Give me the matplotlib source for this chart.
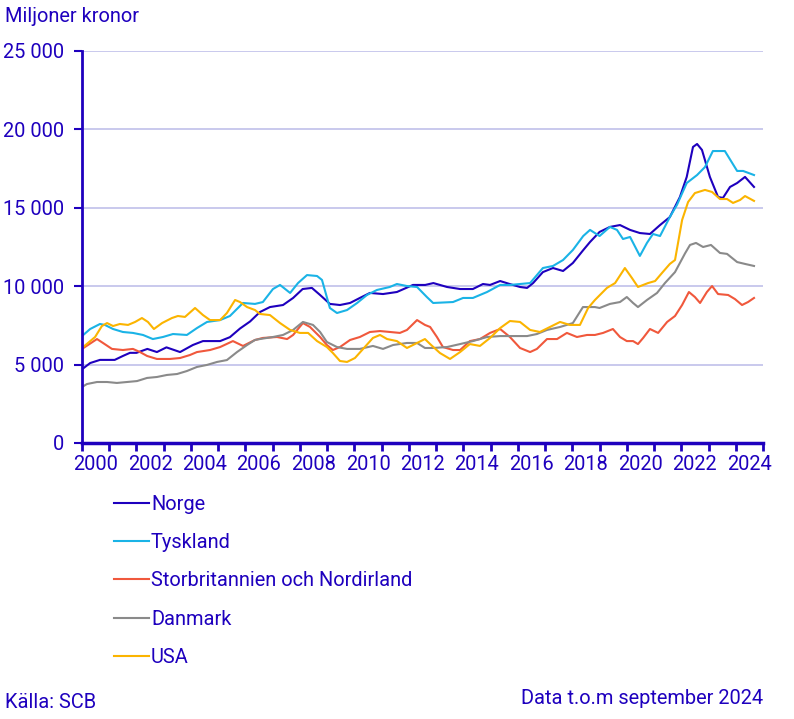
import matplotlib.pyplot as plt
from matplotlib.ticker import FuncFormatter

# (year as decimal, value in Mkr)
norge_x = [2000.0, 2000.3, 2000.66, 2001.2, 2001.5, 2001.76, 2002.0, 2002.4, 2002.75, 2003.1,
           2003.6, 2004.07, 2004.44, 2005.07, 2005.43, 2005.8, 2006.17, 2006.53, 2006.9, 2007.38,
           2007.75, 2008.1, 2008.44, 2008.74, 2009.1, 2009.47, 2009.84, 2010.2, 2010.57, 2011.05,
           2011.56, 2012.15, 2012.6, 2012.9, 2013.4, 2013.88, 2014.35, 2014.72, 2014.98, 2015.35,
           2015.7, 2016.08, 2016.34, 2016.56, 2016.92, 2017.29, 2017.66, 2018.02, 2018.4, 2018.65,
           2019.0, 2019.38, 2019.75, 2020.12, 2020.48, 2020.85, 2021.22, 2021.58, 2021.95, 2022.2,
           2022.43, 2022.58, 2022.76, 2023.05, 2023.35, 2023.53, 2023.79, 2024.05, 2024.34, 2024.67]
norge_y = [4700, 5100, 5300, 5300, 5550, 5750, 5750, 6000, 5800, 6100,
           5800, 6250, 6500, 6500, 6750, 7300, 7750, 8350, 8670, 8800,
           9250, 9820, 9890, 9440, 8870, 8800, 8930, 9250, 9570, 9500,
           9630, 10080, 10080, 10200, 9950, 9820, 9820, 10140, 10080, 10330,
           10140, 9950, 9890, 10200, 10900, 11160, 10970, 11480, 12300, 12820,
           13460, 13780, 13900, 13590, 13390, 13330, 13900, 14410, 15690, 16970,
           18880, 19070, 18690, 16970, 15690, 15630, 16330, 16580, 16970, 16330]

tyskland_x = [2000.0, 2000.3, 2000.66, 2000.84, 2001.14, 2001.5, 2001.87, 2002.24, 2002.6, 2002.97,
              2003.34, 2003.85, 2004.22, 2004.59, 2005.07, 2005.43, 2005.91, 2006.35, 2006.64, 2007.01,
              2007.27, 2007.64, 2007.93, 2008.26, 2008.63, 2008.81, 2009.1, 2009.36, 2009.73, 2010.1,
              2010.46, 2010.83, 2011.3, 2011.56, 2011.93, 2012.3, 2012.66, 2012.89, 2013.62, 2013.99,
              2014.35, 2014.87, 2015.35, 2015.71, 2016.08, 2016.45, 2016.7, 2016.92, 2017.29, 2017.66,
              2018.02, 2018.4, 2018.65, 2019.0, 2019.38, 2019.64, 2019.86, 2020.12, 2020.48, 2020.74,
              2020.96, 2021.22, 2021.58, 2021.84, 2022.2, 2022.58, 2022.87, 2023.16, 2023.6, 2024.05,
              2024.27, 2024.67]
tyskland_y = [6820, 7270, 7590, 7530, 7270, 7080, 7020, 6890, 6630, 6760,
              6950, 6890, 7330, 7720, 7840, 8100, 8930, 8870, 8990, 9820,
              10080, 9570, 10200, 10710, 10650, 10400, 8610, 8290, 8480, 8930,
              9440, 9760, 9950, 10140, 10010, 9950, 9310, 8930, 8990, 9250,
              9250, 9630, 10080, 10080, 10140, 10200, 10710, 11160, 11290, 11670,
              12310, 13200, 13590, 13200, 13780, 13590, 13010, 13140, 11930, 12760,
              13330, 13200, 14410, 15180, 16580, 17090, 17600, 18620, 18620, 17350,
              17350, 17090]

storbritannien_x = [2000.0, 2000.22, 2000.55, 2000.77, 2001.1, 2001.5, 2001.87, 2002.13, 2002.39, 2002.75,
                    2003.23, 2003.6, 2003.96, 2004.22, 2004.7, 2005.07, 2005.54, 2005.91, 2006.35, 2006.64,
                    2007.16, 2007.53, 2007.75, 2008.11, 2008.37, 2008.74, 2008.99, 2009.21, 2009.47, 2009.84,
                    2010.2, 2010.57, 2010.94, 2011.31, 2011.67, 2011.93, 2012.3, 2012.59, 2012.78, 2013.03,
                    2013.25, 2013.62, 2013.88, 2014.24, 2014.61, 2014.98, 2015.35, 2015.71, 2016.08, 2016.45,
                    2016.7, 2017.07, 2017.44, 2017.8, 2018.17, 2018.54, 2018.83, 2019.13, 2019.49, 2019.75,
                    2020.0, 2020.23, 2020.41, 2020.6, 2020.85, 2021.15, 2021.48, 2021.77, 2022.03, 2022.28,
                    2022.5, 2022.69, 2022.94, 2023.13, 2023.35, 2023.72, 2023.97, 2024.23, 2024.45, 2024.67]
storbritannien_y = [6000, 6250, 6630, 6380, 6000, 5930, 6000, 5800, 5550, 5360,
                    5360, 5420, 5610, 5800, 5930, 6120, 6500, 6190, 6570, 6700,
                    6760, 6630, 6890, 7650, 7400, 6760, 6250, 5930, 6120, 6570,
                    6760, 7080, 7140, 7080, 7020, 7210, 7840, 7530, 7400, 6760,
                    6120, 5930, 5930, 6500, 6630, 7020, 7270, 6760, 6060, 5800,
                    6000, 6630, 6630, 7020, 6760, 6890, 6890, 7020, 7270, 6760,
                    6500, 6500, 6310, 6700, 7270, 7020, 7720, 8100, 8800, 9630,
                    9310, 8930, 9630, 10010, 9500, 9440, 9180, 8800, 8990, 9250]

danmark_x = [2000.0, 2000.18, 2000.55, 2000.92, 2001.28, 2001.65, 2002.02, 2002.39, 2002.75, 2003.12,
             2003.49, 2003.85, 2004.22, 2004.59, 2004.96, 2005.32, 2005.69, 2006.06, 2006.35, 2006.53,
             2007.01, 2007.38, 2007.75, 2008.11, 2008.48, 2008.74, 2008.99, 2009.36, 2009.73, 2010.2,
             2010.68, 2011.05, 2011.42, 2011.93, 2012.3, 2012.59, 2012.89, 2013.4, 2013.88, 2014.35,
             2014.87, 2015.35, 2015.82, 2016.34, 2016.7, 2017.07, 2017.55, 2018.02, 2018.39, 2018.83,
             2019.0, 2019.38, 2019.75, 2020.0, 2020.23, 2020.41, 2020.74, 2021.11, 2021.4, 2021.77,
             2022.14, 2022.32, 2022.54, 2022.8, 2023.09, 2023.42, 2023.68, 2024.05, 2024.34, 2024.67]
danmark_y = [3570, 3760, 3890, 3890, 3830, 3890, 3950, 4150, 4210, 4340,
             4400, 4590, 4850, 4980, 5170, 5290, 5800, 6250, 6570, 6630,
             6760, 6890, 7210, 7720, 7530, 7080, 6440, 6120, 6000, 6000,
             6190, 6000, 6250, 6380, 6380, 6060, 6060, 6120, 6310, 6500,
             6760, 6820, 6820, 6820, 6950, 7210, 7400, 7650, 8670, 8670,
             8610, 8870, 8990, 9310, 8930, 8670, 9120, 9570, 10200, 10900,
             12100, 12630, 12760, 12500, 12630, 12120, 12060, 11540, 11420, 11290]

usa_x = [2000.0, 2000.22, 2000.48, 2000.73, 2000.92, 2001.14, 2001.39, 2001.69, 2001.95, 2002.2,
         2002.42, 2002.64, 2002.94, 2003.3, 2003.52, 2003.78, 2004.15, 2004.44, 2004.7, 2005.07,
         2005.32, 2005.62, 2005.8, 2006.06, 2006.35, 2006.53, 2006.9, 2007.27, 2007.64, 2008.0,
         2008.3, 2008.63, 2008.99, 2009.21, 2009.47, 2009.73, 2010.02, 2010.32, 2010.68, 2010.94,
         2011.2, 2011.56, 2011.93, 2012.3, 2012.59, 2012.78, 2013.14, 2013.51, 2013.88, 2014.24,
         2014.61, 2014.98, 2015.35, 2015.71, 2016.08, 2016.45, 2016.81, 2017.18, 2017.55, 2017.91,
         2018.28, 2018.58, 2018.83, 2019.27, 2019.57, 2019.93, 2020.19, 2020.41, 2020.78, 2021.04,
         2021.29, 2021.58, 2021.77, 2022.03, 2022.25, 2022.5, 2022.87, 2023.13, 2023.42, 2023.68,
         2023.9, 2024.16, 2024.34, 2024.67]
usa_y = [6060, 6380, 6760, 7460, 7650, 7460, 7590, 7530, 7720, 7970,
         7720, 7270, 7650, 7970, 8100, 8040, 8610, 8160, 7840, 7840,
         8290, 9120, 8990, 8670, 8480, 8230, 8160, 7650, 7210, 7020,
         7020, 6500, 6120, 5740, 5230, 5170, 5420, 6000, 6700, 6890,
         6630, 6500, 6060, 6380, 6630, 6310, 5740, 5360, 5800, 6310,
         6190, 6700, 7330, 7780, 7720, 7210, 7080, 7400, 7720, 7530,
         7530, 8610, 9120, 9890, 10200, 11160, 10520, 9950, 10200, 10330,
         10840, 11420, 11670, 14220, 15370, 15940, 16140, 16010, 15560, 15560,
         15310, 15500, 15750, 15440]

TEXT = "#1e00be"
FS = 14.4
series = [
    ("Norge", norge_x, norge_y, "#1e00be"),
    ("Tyskland", tyskland_x, tyskland_y, "#1ab3e6"),
    ("Storbritannien och Nordirland", storbritannien_x, storbritannien_y, "#f0583c"),
    ("Danmark", danmark_x, danmark_y, "#8a8a8a"),
    ("USA", usa_x, usa_y, "#fbb400"),
]

plt.rcParams["font.family"] = ["Roboto", "DejaVu Sans"]

fig = plt.figure(figsize=(7.94, 7.19), dpi=100)
ax = fig.add_axes([82 / 794, 1 - 443 / 719, 681 / 794, 392 / 719])

for name, xs, ys, color in series:
    ax.plot(xs, ys, color=color, lw=1.5, label=name)

ax.set_xlim(2000, 2025)
ax.set_ylim(0, 25000)
ax.set_yticks(range(0, 25001, 5000))
ax.yaxis.set_major_formatter(FuncFormatter(lambda v, p: f"{int(v):,}".replace(",", " ")))
ax.set_xticks(range(2000, 2026))
ax.set_xticklabels([])
ax.set_xticks([y + 0.5 for y in range(2000, 2025, 2)], minor=True)
ax.set_xticklabels([str(y) for y in range(2000, 2025, 2)], minor=True)
ax.tick_params(axis="x", which="major", length=6, width=2, color=TEXT)
ax.tick_params(axis="x", which="minor", length=0, pad=9, labelsize=FS, labelcolor=TEXT)
ax.tick_params(axis="y", length=6, width=1.5, color=TEXT, labelsize=FS, labelcolor=TEXT, pad=7)

ax.grid(axis="y", color="#c5c5ec", lw=1.3)
ax.set_axisbelow(True)
for s in ["top", "right"]:
    ax.spines[s].set_visible(False)
ax.spines["left"].set_color(TEXT)
ax.spines["left"].set_linewidth(2)
ax.spines["bottom"].set_color(TEXT)
ax.spines["bottom"].set_linewidth(2.5)

fig.text(5 / 794, 1 - 17 / 719, "Miljoner kronor", color=TEXT, fontsize=FS, va="center")
fig.legend(loc="upper left", bbox_to_anchor=(106 / 794, 1 - 487 / 719), frameon=False,
           fontsize=FS, labelcolor=TEXT, handlelength=1.75, handletextpad=0.1,
           labelspacing=0.96, borderaxespad=0)
fig.text(5 / 794, 1 - 703 / 719, "Källa: SCB", color=TEXT, fontsize=FS, va="center")
fig.text(763 / 794, 1 - 698 / 719, "Data t.o.m september 2024", color=TEXT, fontsize=FS,
         va="center", ha="right")

fig.savefig("out.png", dpi=100)
